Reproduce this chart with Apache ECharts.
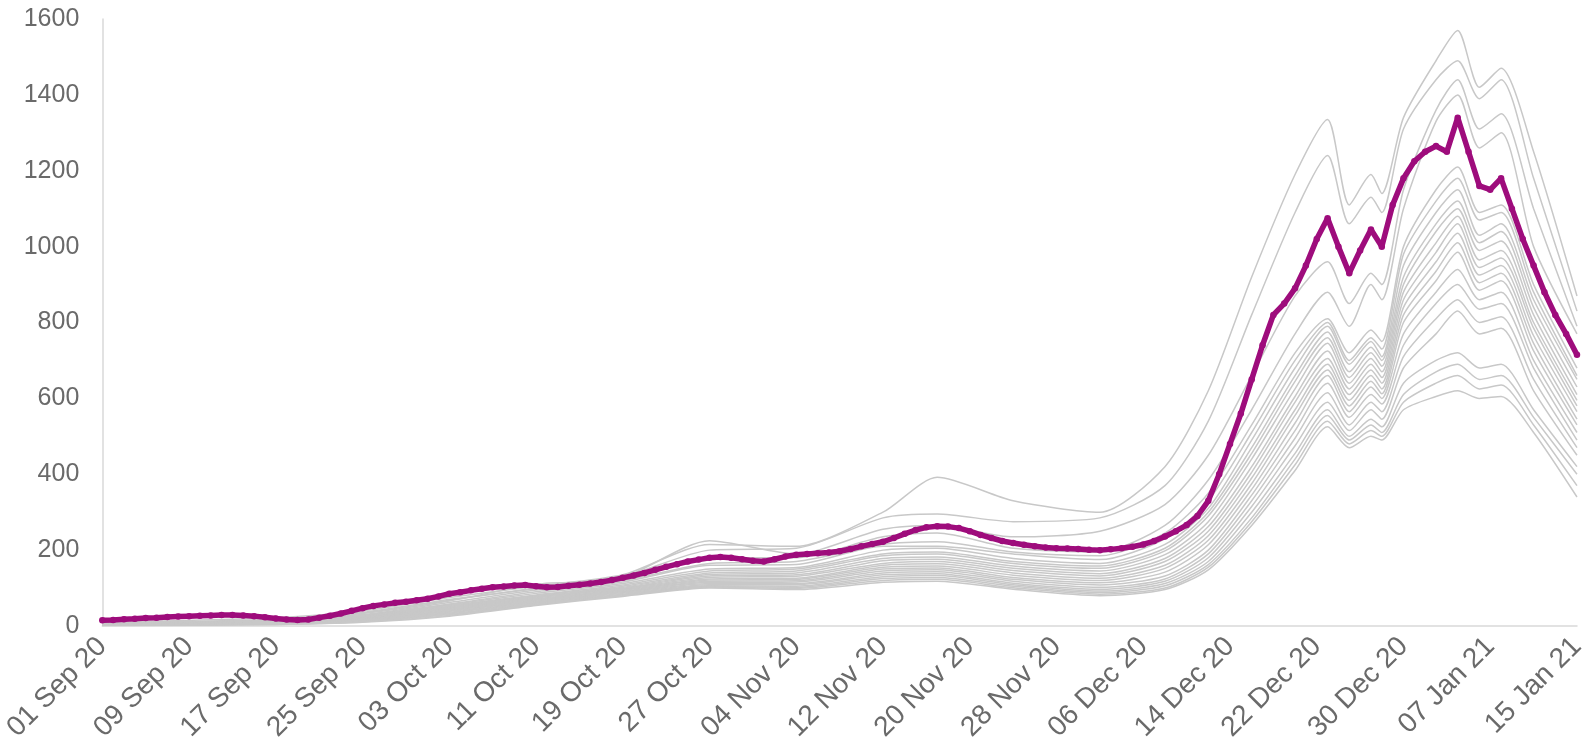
<!DOCTYPE html>
<html><head><meta charset="utf-8">
<script src="https://cdn.jsdelivr.net/npm/echarts@6/dist/echarts.min.js"></script>
<style>html,body{margin:0;padding:0;background:#fff}#c{width:1589px;height:751px}</style>
</head><body><div id="c"></div>
<script>
// Category axis: daily dates 01 Sep 2020 .. 15 Jan 2021
const MONTHS = ['Jan','Feb','Mar','Apr','May','Jun','Jul','Aug','Sep','Oct','Nov','Dec'];
const dates = [];
for (let t = Date.UTC(2020, 8, 1); t <= Date.UTC(2021, 0, 15); t += 86400000) {
  const d = new Date(t);
  dates.push(String(d.getUTCDate()).padStart(2, '0') + ' ' + MONTHS[d.getUTCMonth()] + ' ' + String(d.getUTCFullYear()).slice(2));
}

// Highlighted series (daily values)
const highlight = [
  15,16,18,19,21,22,24,25,26,27,28,29,29,28,26,23,20,17,16,17,
  22,27,33,40,47,53,57,61,64,68,72,78,85,89,94,98,102,104,107,108,
  105,102,103,106,109,112,116,121,127,133,140,148,156,163,170,175,180,182,180,176,
  172,170,176,183,188,190,192,194,197,203,210,216,222,232,243,253,260,263,262,258,
  250,240,232,224,219,214,210,207,205,204,203,201,200,202,205,209,215,224,236,250,
  266,290,330,400,480,560,650,740,820,850,890,950,1020,1075,1000,930,990,1045,1000,1110,
  1180,1225,1250,1265,1250,1340,1250,1160,1150,1180,1100,1020,950,880,820,770,715
];

// Other areas: values read at these day indices
const sampleDays = [0,16,24,32,40,48,56,64,72,77,84,92,98,102,106,110,113,115,117,118,120,123,125,127,129,132,136];
const others = [
  [10,22,40,75,105,135,215,210,300,392,330,300,420,620,920,1190,1335,1110,1190,1140,1340,1490,1570,1420,1470,1250,870],
  [9,18,36,70,98,130,200,205,285,295,275,285,370,540,820,1090,1240,1060,1130,1090,1310,1440,1490,1390,1440,1180,830],
  [8,16,34,68,100,128,225,190,255,265,235,250,320,450,660,870,960,850,930,900,1150,1360,1440,1310,1350,1100,790],
  [7,15,33,66,110,122,180,180,235,245,205,195,265,385,570,770,880,790,900,860,1100,1330,1400,1260,1300,1000,770],
  [7,14,30,62,95,120,165,170,215,222,195,185,245,350,530,720,810,720,780,750,1000,1150,1210,1090,1110,900,680],
  [6,13,28,58,90,116,160,162,210,210,190,175,230,330,510,700,800,700,760,730,980,1120,1180,1070,1090,880,660],
  [6,12,27,56,86,112,150,154,200,205,178,165,215,310,490,680,790,690,750,710,950,1090,1150,1030,1060,860,650],
  [5,11,25,54,82,108,145,150,190,195,170,158,205,300,470,660,775,670,735,700,920,1060,1120,1010,1040,840,630],
  [5,10,24,52,80,105,140,145,185,190,165,152,198,290,455,645,760,655,720,685,900,1040,1100,990,1015,820,610],
  [5,10,22,50,78,102,136,140,178,182,158,145,188,275,440,625,745,640,705,670,880,1010,1080,965,990,800,595],
  [4,9,21,48,76,100,132,135,172,176,152,138,178,262,420,605,725,625,690,655,860,985,1060,945,970,785,580],
  [4,9,20,46,74,98,128,131,165,170,146,132,170,250,405,590,705,610,675,640,840,960,1035,925,950,765,565],
  [4,8,19,44,72,96,124,126,160,164,140,126,160,238,390,570,690,595,660,625,820,935,1010,905,930,745,545],
  [3,8,18,42,70,94,121,123,155,158,134,120,152,226,375,555,675,580,645,612,800,910,985,885,910,725,530],
  [3,7,17,40,68,92,118,119,150,153,128,114,142,214,360,535,660,565,630,600,770,880,940,860,880,700,510],
  [3,7,16,38,66,90,115,116,145,148,123,108,132,200,345,515,640,550,610,585,740,850,900,835,850,680,490],
  [3,6,15,36,64,88,112,112,140,143,118,102,124,190,330,495,615,530,590,565,710,810,860,800,815,650,470],
  [2,6,14,34,62,86,109,109,135,138,113,97,118,180,315,475,590,515,570,545,680,770,830,770,785,620,450],
  [2,5,13,32,60,84,106,105,130,133,109,92,112,170,300,455,570,500,545,525,640,700,720,680,690,570,420],
  [2,5,12,30,58,82,104,102,125,128,105,88,106,162,285,440,555,490,530,510,610,670,690,650,660,550,400],
  [2,4,11,28,56,80,102,99,120,123,101,84,100,155,275,425,540,480,515,500,590,640,660,625,635,530,370],
  [1,4,10,26,54,78,100,96,115,118,97,80,96,148,265,410,525,470,500,490,570,605,620,600,605,510,340]
];

const yTicks = { min: 0, max: 1600, interval: 200 };

const FONT = '"Liberation Sans", Arial, sans-serif';
const series = others.map((vals, k) => ({
  type: 'line',
  name: 'area' + (k + 1),
  data: sampleDays.map((d, i) => [dates[d], vals[i]]),
  showSymbol: false,
  smooth: 0.25,
  lineStyle: { color: '#c8c8c8', width: 1.5 },
  emphasis: { disabled: true },
  z: 2
}));
series.push({
  type: 'line',
  name: 'highlight',
  data: highlight,
  symbol: 'circle',
  symbolSize: 6.5,
  showSymbol: true,
  itemStyle: { color: '#9e0c7c' },
  lineStyle: { color: '#9e0c7c', width: 5.5 },
  z: 5
});

const chart = echarts.init(document.getElementById('c'));
chart.setOption({
  animation: false,
  backgroundColor: '#ffffff',
  grid: { left: 100, right: 0, top: 19, bottom: 125, containLabel: false },
  xAxis: {
    type: 'category',
    data: dates,
    boundaryGap: false,
    axisLine: { lineStyle: { color: '#d9d9d9', width: 1.5 } },
    axisTick: { show: false },
    axisLabel: {
      interval: 7, rotate: 45, fontSize: 28, color: '#6a6a6a', fontFamily: FONT, margin: 16
    },
    splitLine: { show: false }
  },
  yAxis: {
    type: 'value',
    min: yTicks.min, max: yTicks.max, interval: yTicks.interval,
    axisLine: { show: true, lineStyle: { color: '#d9d9d9', width: 1.5 } },
    axisTick: { show: false },
    axisLabel: { fontSize: 25, color: '#6a6a6a', fontFamily: FONT, margin: 23, formatter: v => String(v) },
    splitLine: { show: false }
  },
  series: series
});
</script>
</body></html>
